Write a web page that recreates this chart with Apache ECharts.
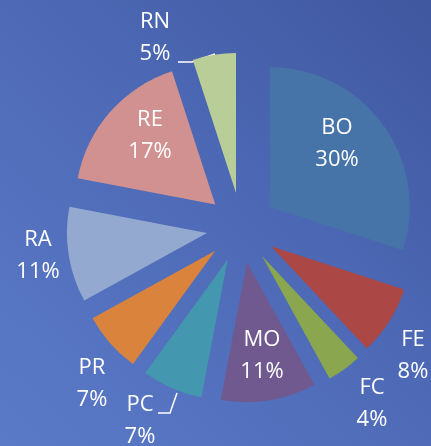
<!DOCTYPE html>
<html>
<head>
<meta charset="utf-8">
<script src="https://cdn.jsdelivr.net/npm/echarts@6/dist/echarts.min.js"></script>
<style>
  html, body { margin: 0; padding: 0; }
  #main { width: 431px; height: 446px; }
</style>
</head>
<body>
<div id="main"></div>
<script>
var names = ['BO', 'FE', 'FC', 'MO', 'PC', 'PR', 'RA', 'RE', 'RN'];
var values = [30, 8, 4, 11, 7, 7, 11, 17, 5];
var colors = ['#4673a8', '#ab4745', '#8aa64e', '#70598f', '#4398af', '#da833d', '#93a9cf', '#d09190', '#b8cd97'];

// where each label sits (centre of the two lines)
var labelPos = [[337, 144], [413, 356], [372, 404], [262, 356], [140, 421], [92, 384], [38, 256], [150, 136], [155, 38]];
// leader lines for the two labels that sit away from their slice
var leaderLines = {
    4: [[177, 393], [170, 413], [158, 413]],
    8: [[215, 54], [192, 62], [178, 62]]
};

var myChart = echarts.init(document.getElementById('main'));

var pieCenter = [241.5, 227.6];

myChart.setOption({
    backgroundColor: new echarts.graphic.LinearGradient(0, 1, 1, 0, [
        { offset: 0, color: '#5a7ac7' },
        { offset: 0.5, color: '#4f6bb8' },
        { offset: 1, color: '#3f579f' }
    ]),
    animation: false,
    series: [
        {
            // the exploded slices
            type: 'pie',
            center: pieCenter,
            radius: 140,
            startAngle: 90,
            clockwise: true,
            selectedMode: 'multiple',
            selectedOffset: 35,
            emphasis: { disabled: true },
            label: { show: false },
            labelLine: { show: false },
            data: names.map(function (n, i) {
                return { name: n, value: values[i], selected: true, itemStyle: { color: colors[i] } };
            })
        },
        {
            // same data again, invisible, only to carry the labels
            type: 'pie',
            center: pieCenter,
            radius: 140,
            startAngle: 90,
            clockwise: true,
            silent: true,
            emphasis: { disabled: true },
            itemStyle: { color: 'rgba(0,0,0,0)' },
            data: names.map(function (n, i) {
                return { name: n, value: values[i], labelLine: { show: !!leaderLines[i] } };
            }),
            label: {
                show: true,
                position: 'outside',
                color: '#ffffff',
                fontFamily: 'Open Sans',
                fontSize: 22,
                lineHeight: 32,
                align: 'center',
                overflow: 'none',
                formatter: function (p) {
                    return p.name + '\n' + p.value + '%';
                }
            },
            labelLine: {
                lineStyle: { color: '#ffffff', width: 1.5 }
            },
            labelLayout: function (p) {
                var pos = labelPos[p.dataIndex];
                var res = {
                    x: pos[0],
                    y: pos[1],
                    align: 'center',
                    verticalAlign: 'middle'
                };
                if (leaderLines[p.dataIndex]) {
                    res.labelLinePoints = leaderLines[p.dataIndex];
                }
                return res;
            }
        }
    ]
});
</script>
</body>
</html>
